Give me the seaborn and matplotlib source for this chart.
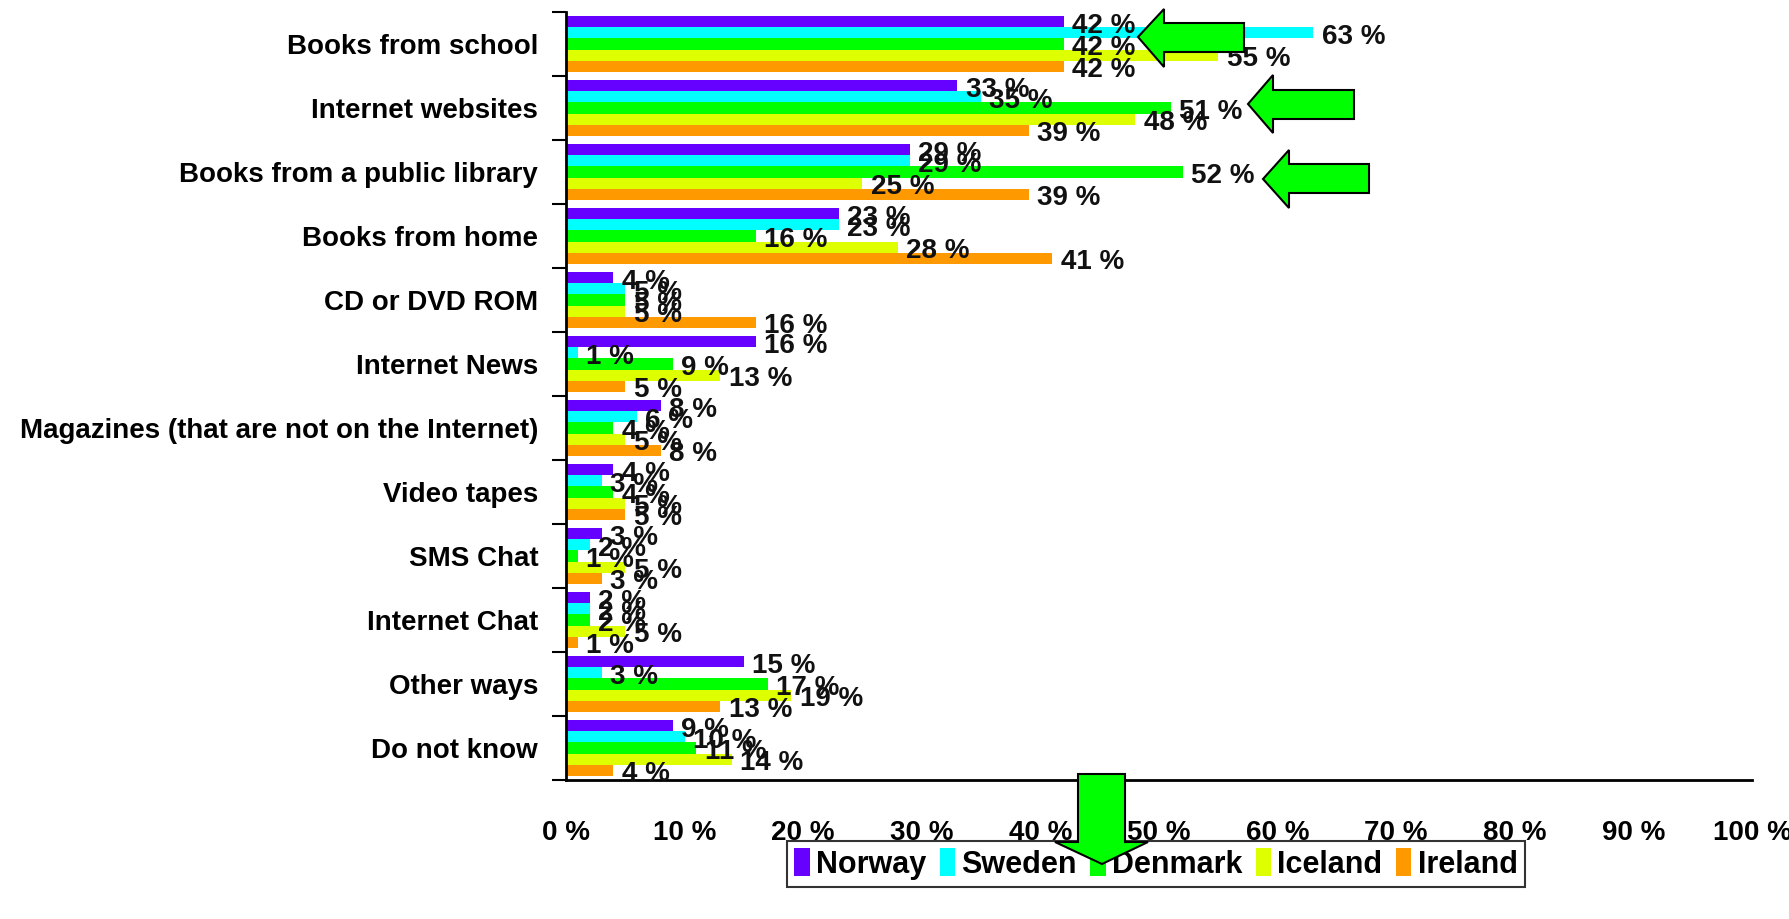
import numpy as np
import pandas as pd
import matplotlib
matplotlib.use("Agg")
import matplotlib.pyplot as plt
from matplotlib.patches import Polygon
from matplotlib.ticker import FixedLocator, FuncFormatter
import seaborn as sns

# --- data ---
SOURCES = [
    "Books from school",
    "Internet websites",
    "Books from a public library",
    "Books from home",
    "CD or DVD ROM",
    "Internet News",
    "Magazines (that are not on the Internet)",
    "Video tapes",
    "SMS Chat",
    "Internet Chat",
    "Other ways",
    "Do not know",
]
COUNTRIES = ["Norway", "Sweden", "Denmark", "Iceland", "Ireland"]
NORWAY = [42, 33, 29, 23, 4, 16, 8, 4, 3, 2, 15, 9]
SWEDEN = [63, 35, 29, 23, 5, 1, 6, 3, 2, 2, 3, 10]
DENMARK = [42, 51, 52, 16, 5, 9, 4, 4, 1, 2, 17, 11]
ICELAND = [55, 48, 25, 28, 5, 13, 5, 5, 5, 5, 19, 14]
IRELAND = [42, 39, 39, 41, 16, 5, 8, 5, 3, 1, 13, 4]
XTICKS = [0, 10, 20, 30, 40, 50, 60, 70, 80, 90, 100]

COLORS = {
    "Norway": "#6600FF",
    "Sweden": "#00FFFF",
    "Denmark": "#00FF00",
    "Iceland": "#DDFF00",
    "Ireland": "#FF9900",
}

W, H = 1790, 919

df = pd.DataFrame({
    "source": np.repeat(SOURCES, len(COUNTRIES)),
    "country": COUNTRIES * len(SOURCES),
    "value": np.column_stack([NORWAY, SWEDEN, DENMARK, ICELAND, IRELAND]).ravel(),
})

sns.set_theme(style="white")
plt.rcParams["font.family"] = ["Liberation Sans", "DejaVu Sans"]
plt.rcParams["font.weight"] = "bold"
plt.rcParams["text.color"] = "black"
plt.rcParams["xtick.color"] = "black"
plt.rcParams["ytick.color"] = "black"

fig = plt.figure(figsize=(W / 100, H / 100), dpi=100)
ax = fig.add_axes([566 / W, 1 - 780 / H, (1752 - 566) / W, (780 - 12) / H])

sns.barplot(
    data=df, y="source", x="value", hue="country", order=SOURCES,
    hue_order=COUNTRIES, palette=COLORS, orient="h", width=0.86,
    saturation=1, ax=ax, errorbar=None, linewidth=0,
)

# value labels just right of each bar, a touch below its centre
for cont in ax.containers:
    for bar in cont:
        w = bar.get_width()
        yc = bar.get_y() + bar.get_height() / 2
        ax.annotate(f"{w:.0f} %", (w, yc), xytext=(6, -3), textcoords="offset points",
                    ha="left", va="center", fontsize=20, fontweight="bold",
                    color="#111111", annotation_clip=False)

ax.set_xlim(0, 100)
ax.set_ylim(len(SOURCES) - 0.5, -0.5)
ax.set_xlabel("")
ax.set_ylabel("")

ax.xaxis.set_major_locator(FixedLocator(XTICKS))
ax.xaxis.set_major_formatter(FuncFormatter(lambda v, p: f"{v:.0f} %"))
ax.tick_params(axis="x", direction="out", length=10, width=1.5, color="black",
               labelcolor="black", pad=19, labelsize=20)
ax.tick_params(axis="y", which="major", length=0, pad=20, labelsize=20,
               labelcolor="black")
ax.yaxis.set_minor_locator(FixedLocator(np.arange(-0.5, len(SOURCES), 1.0)))
ax.tick_params(axis="y", which="minor", direction="out", length=10, width=1.5,
               color="black", left=True)

for s in ["top", "right"]:
    ax.spines[s].set_visible(False)
for s in ["left", "bottom"]:
    ax.spines[s].set_color("black")
    ax.spines[s].set_linewidth(2)

handles, labels = ax.get_legend_handles_labels()
ax.get_legend().remove()
leg = fig.legend(
    handles, labels, loc="center", bbox_to_anchor=(1156 / W, 1 - 864 / H),
    bbox_transform=fig.transFigure, ncol=5, frameon=True, fancybox=False,
    edgecolor="black", fontsize=22, handlelength=0.5, handleheight=1.0,
    handletextpad=0.2, columnspacing=0.45, borderpad=0.25,
)
leg.get_frame().set_linewidth(1.5)
for t in leg.get_texts():
    t.set_color("black")


def fig_poly(points):
    pts = [(x / W, 1 - y / H) for x, y in points]
    fig.patches.append(Polygon(pts, closed=True, transform=fig.transFigure,
                               facecolor="#00FF00", edgecolor="black",
                               linewidth=1.5, zorder=10))


def left_arrow(tip_x, tip_y, base_x, head_top, head_bot, sh_top, sh_bot, end_x):
    fig_poly([(tip_x, tip_y), (base_x, head_top), (base_x, sh_top), (end_x, sh_top),
              (end_x, sh_bot), (base_x, sh_bot), (base_x, head_bot)])


left_arrow(1138, 37, 1164, 9, 67, 23, 52, 1244)
left_arrow(1248, 104, 1273, 75, 133, 90, 119, 1354)
left_arrow(1263, 179, 1289, 150, 208, 164, 193, 1369)
# down arrow under the axis
fig_poly([(1078, 774), (1125, 774), (1125, 842), (1148, 842), (1102, 864),
          (1055, 842), (1078, 842)])

fig.savefig("out.png", dpi=100)
